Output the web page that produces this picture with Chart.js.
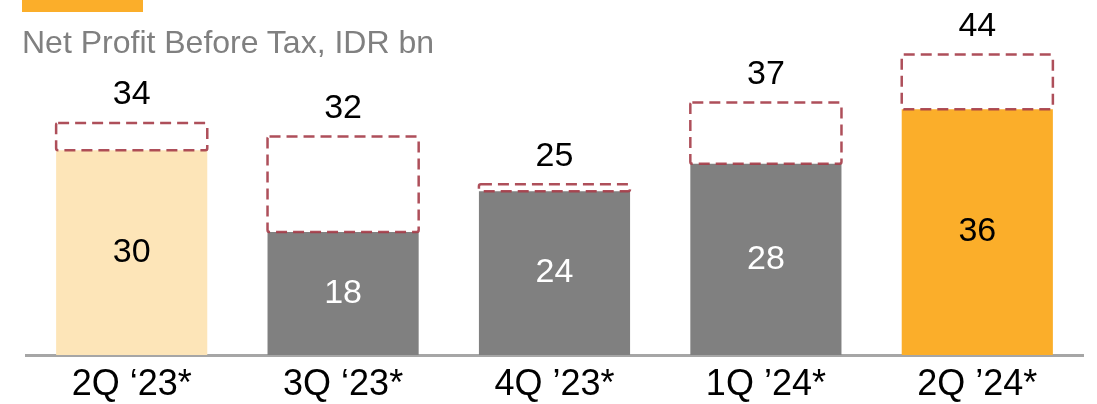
<!DOCTYPE html>
<html lang="en">

<head>
    <meta charset="UTF-8" />
    <title>Net Profit Before Tax</title>
    <script src="https://cdn.jsdelivr.net/npm/chart.js@4/dist/chart.umd.min.js"></script>
    <style>
        html, body { margin: 0; padding: 0; background: #fff; }
        .wrap { position: relative; width: 1097px; height: 404px; overflow: hidden; }
        .accent { position: absolute; left: 22px; top: 0; width: 121px; height: 12px; background: #FBAE2A; }
        .title {
            position: absolute; left: 22px; top: 26px;
            font-family: "Liberation Sans", Arial, sans-serif; font-size: 32px; line-height: 32px;
            color: #808080; white-space: nowrap;
        }
        canvas { position: absolute; left: 0; top: 0; }
    </style>
</head>

<body>
    <div class="wrap">
        <canvas id="npbtChart" width="1097" height="404"></canvas>
        <div class="accent"></div>
        <div class="title">Net Profit Before Tax, IDR bn</div>
    </div>

<script>
    // values
    const quarters = ['2Q \u201823*', '3Q \u201823*', '4Q \u201923*', '1Q \u201924*', '2Q \u201924*'];
    const npbt = [30, 18, 24, 28, 36];          // solid bar
    const npbtTotal = [34, 32, 25, 37, 44];     // top of dashed box
    const barColors = ['#FDE5B8', '#808080', '#808080', '#808080', '#FBAE2A'];
    const innerLabelColors = ['#000', '#fff', '#fff', '#fff', '#000'];

    const gap = npbtTotal.map((t, i) => t - npbt[i]);

    // dashed boxes + value labels
    const boxesAndLabels = {
        id: 'boxesAndLabels',
        afterDatasetsDraw(chart) {
            const ctx = chart.ctx;
            const base = chart.getDatasetMeta(0).data;
            const extra = chart.getDatasetMeta(1).data;
            ctx.save();
            ctx.setLineDash([11, 6]);
            ctx.lineWidth = 2.5;
            ctx.strokeStyle = 'rgba(165, 60, 72, 0.9)';
            extra.forEach((el) => {
                const p = el.getProps(['x', 'y', 'base', 'width'], true);
                ctx.beginPath();
                ctx.roundRect(p.x - p.width / 2, p.y, p.width, p.base - p.y, 2);
                ctx.stroke();
            });
            ctx.setLineDash([]);

            ctx.font = '34px "Liberation Sans", Arial, sans-serif';
            ctx.textAlign = 'center';
            ctx.textBaseline = 'middle';
            extra.forEach((el, i) => {
                const p = el.getProps(['x', 'y'], true);
                ctx.fillStyle = '#000';
                ctx.fillText(String(npbtTotal[i]), p.x, p.y - 28);
            });
            base.forEach((el, i) => {
                const p = el.getProps(['x', 'y', 'base'], true);
                ctx.fillStyle = innerLabelColors[i];
                ctx.fillText(String(npbt[i]), p.x, (p.y + p.base) / 2);
            });
            ctx.restore();
        }
    };

    new Chart(document.getElementById('npbtChart'), {
        type: 'bar',
        data: {
            labels: quarters,
            datasets: [
                {
                    label: 'NPBT',
                    data: npbt,
                    backgroundColor: barColors,
                    borderWidth: 0,
                    categoryPercentage: 1,
                    barPercentage: 0.715
                },
                {
                    label: 'Total',
                    data: gap,
                    backgroundColor: 'rgba(255,255,255,0)',
                    borderWidth: 0,
                    categoryPercentage: 1,
                    barPercentage: 0.715
                }
            ]
        },
        plugins: [boxesAndLabels],
        options: {
            responsive: false,
            animation: false,
            layout: { padding: { left: 26, right: 14, top: 0, bottom: 0 } },
            plugins: {
                legend: { display: false },
                tooltip: { enabled: false }
            },
            scales: {
                x: {
                    stacked: true,
                    grid: { display: false, drawTicks: false },
                    border: { display: true, color: '#A6A6A6', width: 3 },
                    ticks: {
                        color: '#000',
                        padding: 8,
                        maxRotation: 0,
                        autoSkip: false,
                        font: { family: '"Liberation Sans", Arial, sans-serif', size: 36 }
                    },
                    afterFit(scale) { scale.height = 49; }
                },
                y: {
                    stacked: true,
                    display: false,
                    min: 0,
                    max: 52
                }
            }
        }
    });
</script>
</body>

</html>
